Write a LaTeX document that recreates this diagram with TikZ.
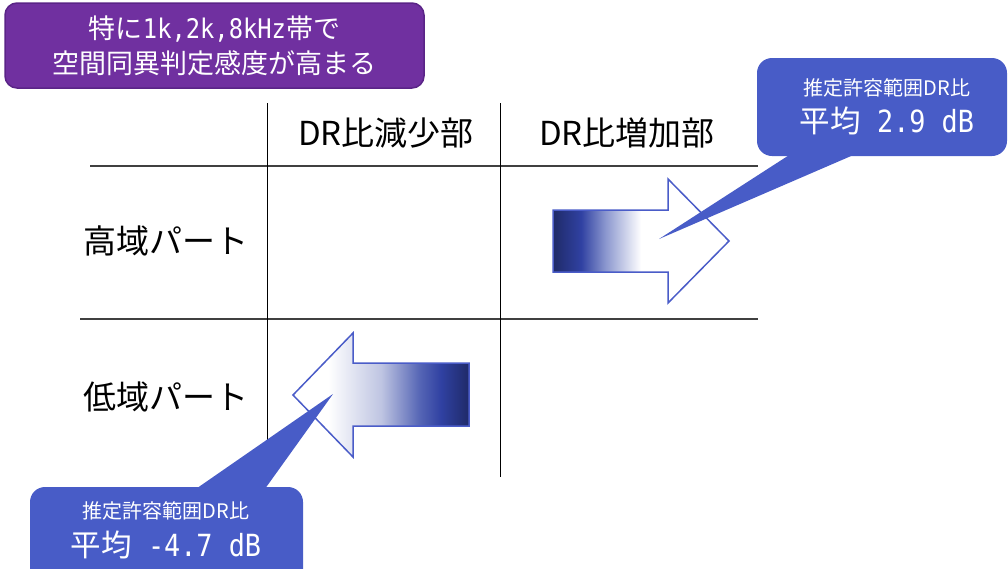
\documentclass[tikz,border=0pt]{standalone}
\usepackage{fontspec}
\setmainfont{Noto Sans CJK JP}
\newfontfamily\monofam[FakeStretch=0.88]{DejaVu Sans Mono}
\definecolor{purp}{HTML}{7030A0}
\definecolor{purpedge}{HTML}{5A2487}
\definecolor{callblue}{HTML}{485CC7}
\definecolor{arrowedge}{HTML}{4A5CC8}
\definecolor{navy}{HTML}{1F2A68}
\definecolor{midblue}{HTML}{3041A2}
\definecolor{lightblue}{HTML}{8C98CF}
\definecolor{paleblue}{HTML}{BFC5E2}
\definecolor{midblue2}{HTML}{5565B5}
\definecolor{rulegray}{HTML}{404040}
\pgfdeclarehorizontalshading{rshade}{100bp}{color(0bp)=(navy); color(25bp)=(navy); color(33bp)=(midblue); color(40bp)=(lightblue); color(50bp)=(white); color(100bp)=(white)}
\pgfdeclarehorizontalshading{lshade}{100bp}{color(0bp)=(white); color(35bp)=(white); color(50bp)=(paleblue); color(61bp)=(midblue2); color(67bp)=(midblue); color(75bp)=(navy); color(100bp)=(navy)}
\tikzset{
  hrule/.style={draw=rulegray, line width=1.5pt},
  vrule/.style={draw=black, line width=1pt},
  bigarrow/.style={draw=arrowedge, line width=1.5pt, line join=miter},
  callout/.style={fill=callblue, draw=none},
  hdr/.style={font=\fontsize{33}{38}\selectfont, text=black, inner sep=0pt},
  smalltxt/.style={font=\fontsize{20}{24}\selectfont, text=white, inner sep=0pt},
  bigtxt/.style={font=\fontsize{30.5}{35}\selectfont, text=white, inner sep=0pt},
}
\begin{document}
\begin{tikzpicture}[x=1pt,y=-1pt]
\useasboundingbox (0,0) rectangle (1008,568);
% purple note
\draw[fill=purp, draw=purpedge, line width=1.5pt, rounded corners=12pt] (5,3) rectangle (424,88);
\node[text=white, font=\fontsize{27}{35}\selectfont, align=center, inner sep=0pt] (note) at (214.5,45.5) {特に{\monofam 1k,2k,8kHz}帯で\\空間同異判定感度が高まる};
% table
\coordinate (t1a) at (90,166); \coordinate (t1b) at (758,166);
\coordinate (t2a) at (80,319); \coordinate (t2b) at (758,319);
\coordinate (v1a) at (267,103); \coordinate (v1b) at (267,477);
\coordinate (v2a) at (500,103); \coordinate (v2b) at (500,477);
\draw[hrule] (t1a) -- (t1b);
\draw[hrule] (t2a) -- (t2b);
\draw[vrule] (v1a) -- (v1b);
\draw[vrule] (v2a) -- (v2b);
\node[hdr] (h1) at (386,133) {DR比減少部};
\node[hdr] (h2) at (627,133) {DR比増加部};
\node[hdr] (r1) at (166,241) {高域パート};
\node[hdr] (r2) at (166,397) {低域パート};
% arrows
\path[bigarrow, shading=rshade, shade] (553,210) -- (668,210) -- (668,179) -- (729,241) -- (668,303) -- (668,272) -- (553,272) -- cycle;
\path[bigarrow, shading=lshade, shade] (469,363) -- (353,363) -- (353,333) -- (293,395) -- (353,457) -- (353,426) -- (469,426) -- cycle;
% right callout
\fill[callout, rounded corners=15pt] (757,58) rectangle (1007,156);
\coordinate (rtip) at (659,239);
\fill[callout] (797,150) -- (rtip) -- (865,150) -- cycle;
\node[smalltxt] (rs) at (887,88) {推定許容範囲DR比};
\node[bigtxt] (rb) at (887,121) {平均{\monofam\ 2.9 dB}};
% left callout
\fill[callout, rounded corners=15pt] (30,487) rectangle (303,590);
\coordinate (ltip) at (333,394);
\fill[callout] (190,493) -- (ltip) -- (262,493) -- cycle;
\node[smalltxt] (ls) at (166,511) {推定許容範囲DR比};
\node[bigtxt] (lb) at (166,545) {平均{\monofam\ -4.7 dB}};
\end{tikzpicture}
\end{document}
